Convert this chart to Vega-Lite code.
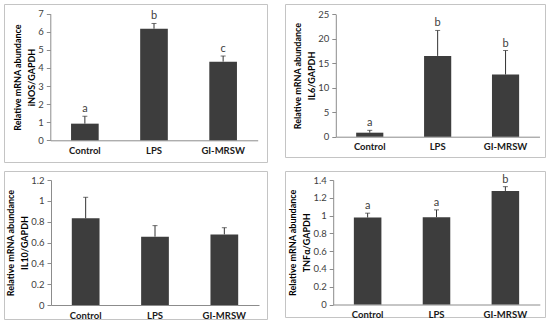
{
  "$schema": "https://vega.github.io/schema/vega-lite/v6.json",
  "background": "white",
  "padding": {"left": 3, "top": 3, "right": 0, "bottom": 0},
  "datasets": {
    "d": [
      {"gene": "iNOS", "group": "Control", "value": 0.92, "upper": 1.33, "letter": "a"},
      {"gene": "iNOS", "group": "LPS", "value": 6.17, "upper": 6.46, "letter": "b"},
      {"gene": "iNOS", "group": "GI-MRSW", "value": 4.35, "upper": 4.66, "letter": "c"},
      {"gene": "IL6", "group": "Control", "value": 0.82, "upper": 1.3, "letter": "a"},
      {"gene": "IL6", "group": "LPS", "value": 16.5, "upper": 21.7, "letter": "b"},
      {"gene": "IL6", "group": "GI-MRSW", "value": 12.7, "upper": 17.6, "letter": "b"},
      {"gene": "IL10", "group": "Control", "value": 0.832, "upper": 1.034, "letter": ""},
      {"gene": "IL10", "group": "LPS", "value": 0.656, "upper": 0.762, "letter": ""},
      {"gene": "IL10", "group": "GI-MRSW", "value": 0.678, "upper": 0.742, "letter": ""},
      {"gene": "TNFa", "group": "Control", "value": 0.978, "upper": 1.027, "letter": "a"},
      {"gene": "TNFa", "group": "LPS", "value": 0.982, "upper": 1.064, "letter": "a"},
      {"gene": "TNFa", "group": "GI-MRSW", "value": 1.277, "upper": 1.325, "letter": "b"}
    ]
  },
  "data": {"name": "d"},
  "config": {
    "view": {"stroke": "#c4c4c4", "strokeWidth": 1},
    "axis": {"grid": false},
    "axisX": {"domainColor": "#8c8c8c", "ticks": false, "labelFont": "Lato", "labelFontWeight": "bold", "labelFontSize": 9.5, "labelColor": "#1a1a1a", "labelPadding": 5, "labelAngle": 0, "title": null},
    "axisY": {"domainColor": "#8c8c8c", "tickColor": "#8c8c8c", "tickSize": 4, "labelFont": "Lato", "labelFontSize": 9.5, "labelColor": "#404040", "labelPadding": 3, "labelOverlap": false, "labelFlush": false, "format": "~g", "titleFont": "Lato", "titleFontWeight": "bold", "titleFontSize": 9, "titleColor": "#000000", "titleLineHeight": 14, "titlePadding": 1}
  },
  "vconcat": [
    {
      "spacing": 16,
      "hconcat": [
        {
          "width": 263, "height": 158,
          "transform": [{"filter": "datum.gene === 'iNOS'"}],
          "encoding": {
            "x": {"field": "group", "type": "nominal", "sort": ["Control", "LPS", "GI-MRSW"],
                  "scale": {"domain": ["Control", "LPS", "GI-MRSW"], "range": [46.3, 253.7], "paddingInner": 0.6, "paddingOuter": 0.3},
                  "axis": {"offset": -21.7}}
          },
          "layer": [
            {"mark": {"type": "bar", "color": "#3d3d3d"},
             "encoding": {"y": {"field": "value", "type": "quantitative", "scale": {"domain": [0, 7], "range": [136.3, 9.7], "nice": false},
                               "axis": {"offset": -46.3, "values": [0, 1, 2, 3, 4, 5, 6, 7], "title": ["Relative mRNA abundance", "iNOS/GAPDH"]}}}},
            {"mark": {"type": "rule", "color": "#333333", "strokeWidth": 1},
             "encoding": {"y": {"field": "value", "type": "quantitative", "axis": {"offset": -46.3, "values": [0, 1, 2, 3, 4, 5, 6, 7], "title": ["Relative mRNA abundance", "iNOS/GAPDH"]}}, "y2": {"field": "upper"}}},
            {"mark": {"type": "tick", "color": "#333333", "size": 5, "thickness": 1},
             "encoding": {"y": {"field": "upper", "type": "quantitative", "axis": {"offset": -46.3, "values": [0, 1, 2, 3, 4, 5, 6, 7], "title": ["Relative mRNA abundance", "iNOS/GAPDH"]}}}},
            {"mark": {"type": "text", "baseline": "bottom", "dy": -2, "font": "Lato", "fontSize": 11, "fill": "#404040"},
             "encoding": {"y": {"field": "upper", "type": "quantitative", "axis": {"offset": -46.3, "values": [0, 1, 2, 3, 4, 5, 6, 7], "title": ["Relative mRNA abundance", "iNOS/GAPDH"]}}, "text": {"field": "letter"}}}
          ]
        },
        {
          "width": 260, "height": 153,
          "transform": [{"filter": "datum.gene === 'IL6'"}],
          "encoding": {
            "x": {"field": "group", "type": "nominal", "sort": ["Control", "LPS", "GI-MRSW"],
                  "scale": {"domain": ["Control", "LPS", "GI-MRSW"], "range": [50.8, 254.5], "paddingInner": 0.6, "paddingOuter": 0.3},
                  "axis": {"offset": -20.3}}
          },
          "layer": [
            {"mark": {"type": "bar", "color": "#3d3d3d"},
             "encoding": {"y": {"field": "value", "type": "quantitative", "scale": {"domain": [0, 25], "range": [132.7, 10.3], "nice": false},
                               "axis": {"offset": -50.8, "values": [0, 5, 10, 15, 20, 25], "title": ["Relative mRNA abundance", "IL6/GAPDH"]}}}},
            {"mark": {"type": "rule", "color": "#333333", "strokeWidth": 1},
             "encoding": {"y": {"field": "value", "type": "quantitative", "axis": {"offset": -50.8, "values": [0, 5, 10, 15, 20, 25], "title": ["Relative mRNA abundance", "IL6/GAPDH"]}}, "y2": {"field": "upper"}}},
            {"mark": {"type": "tick", "color": "#333333", "size": 5, "thickness": 1},
             "encoding": {"y": {"field": "upper", "type": "quantitative", "axis": {"offset": -50.8, "values": [0, 5, 10, 15, 20, 25], "title": ["Relative mRNA abundance", "IL6/GAPDH"]}}}},
            {"mark": {"type": "text", "baseline": "bottom", "dy": -2, "font": "Lato", "fontSize": 11, "fill": "#404040"},
             "encoding": {"y": {"field": "upper", "type": "quantitative", "axis": {"offset": -50.8, "values": [0, 5, 10, 15, 20, 25], "title": ["Relative mRNA abundance", "IL6/GAPDH"]}}, "text": {"field": "letter"}}}
          ]
        }
      ]
    },
    {
      "spacing": 16,
      "hconcat": [
        {
          "width": 263, "height": 148,
          "transform": [{"filter": "datum.gene === 'IL10'"}],
          "encoding": {
            "x": {"field": "group", "type": "nominal", "sort": ["Control", "LPS", "GI-MRSW"],
                  "scale": {"domain": ["Control", "LPS", "GI-MRSW"], "range": [47, 255], "paddingInner": 0.6, "paddingOuter": 0.3},
                  "axis": {"offset": -14}}
          },
          "layer": [
            {"mark": {"type": "bar", "color": "#3d3d3d"},
             "encoding": {"y": {"field": "value", "type": "quantitative", "scale": {"domain": [0, 1.2], "range": [134, 9], "nice": false},
                               "axis": {"offset": -47, "values": [0, 0.2, 0.4, 0.6, 0.8, 1, 1.2], "title": ["Relative mRNA abundance", "IL10/GAPDH"]}}}},
            {"mark": {"type": "rule", "color": "#333333", "strokeWidth": 1},
             "encoding": {"y": {"field": "value", "type": "quantitative", "axis": {"offset": -47, "values": [0, 0.2, 0.4, 0.6, 0.8, 1, 1.2], "title": ["Relative mRNA abundance", "IL10/GAPDH"]}}, "y2": {"field": "upper"}}},
            {"mark": {"type": "tick", "color": "#333333", "size": 5, "thickness": 1},
             "encoding": {"y": {"field": "upper", "type": "quantitative", "axis": {"offset": -47, "values": [0, 0.2, 0.4, 0.6, 0.8, 1, 1.2], "title": ["Relative mRNA abundance", "IL10/GAPDH"]}}}}
          ]
        },
        {
          "width": 260, "height": 146,
          "transform": [{"filter": "datum.gene === 'TNFa'"}],
          "encoding": {
            "x": {"field": "group", "type": "nominal", "sort": ["Control", "LPS", "GI-MRSW"],
                  "scale": {"domain": ["Control", "LPS", "GI-MRSW"], "range": [48.2, 254.8], "paddingInner": 0.6, "paddingOuter": 0.3},
                  "axis": {"offset": -12.5}}
          },
          "layer": [
            {"mark": {"type": "bar", "color": "#3d3d3d"},
             "encoding": {"y": {"field": "value", "type": "quantitative", "scale": {"domain": [0, 1.4], "range": [133.5, 9], "nice": false},
                               "axis": {"offset": -48.2, "values": [0, 0.2, 0.4, 0.6, 0.8, 1, 1.2, 1.4], "title": ["Relative mRNA abundance", "TNFα/GAPDH"]}}}},
            {"mark": {"type": "rule", "color": "#333333", "strokeWidth": 1},
             "encoding": {"y": {"field": "value", "type": "quantitative", "axis": {"offset": -48.2, "values": [0, 0.2, 0.4, 0.6, 0.8, 1, 1.2, 1.4], "title": ["Relative mRNA abundance", "TNFα/GAPDH"]}}, "y2": {"field": "upper"}}},
            {"mark": {"type": "tick", "color": "#333333", "size": 5, "thickness": 1},
             "encoding": {"y": {"field": "upper", "type": "quantitative", "axis": {"offset": -48.2, "values": [0, 0.2, 0.4, 0.6, 0.8, 1, 1.2, 1.4], "title": ["Relative mRNA abundance", "TNFα/GAPDH"]}}}},
            {"mark": {"type": "text", "baseline": "bottom", "dy": -2, "font": "Lato", "fontSize": 11, "fill": "#404040"},
             "encoding": {"y": {"field": "upper", "type": "quantitative", "axis": {"offset": -48.2, "values": [0, 0.2, 0.4, 0.6, 0.8, 1, 1.2, 1.4], "title": ["Relative mRNA abundance", "TNFα/GAPDH"]}}, "text": {"field": "letter"}}}
          ]
        }
      ]
    }
  ],
  "spacing": 7
}
